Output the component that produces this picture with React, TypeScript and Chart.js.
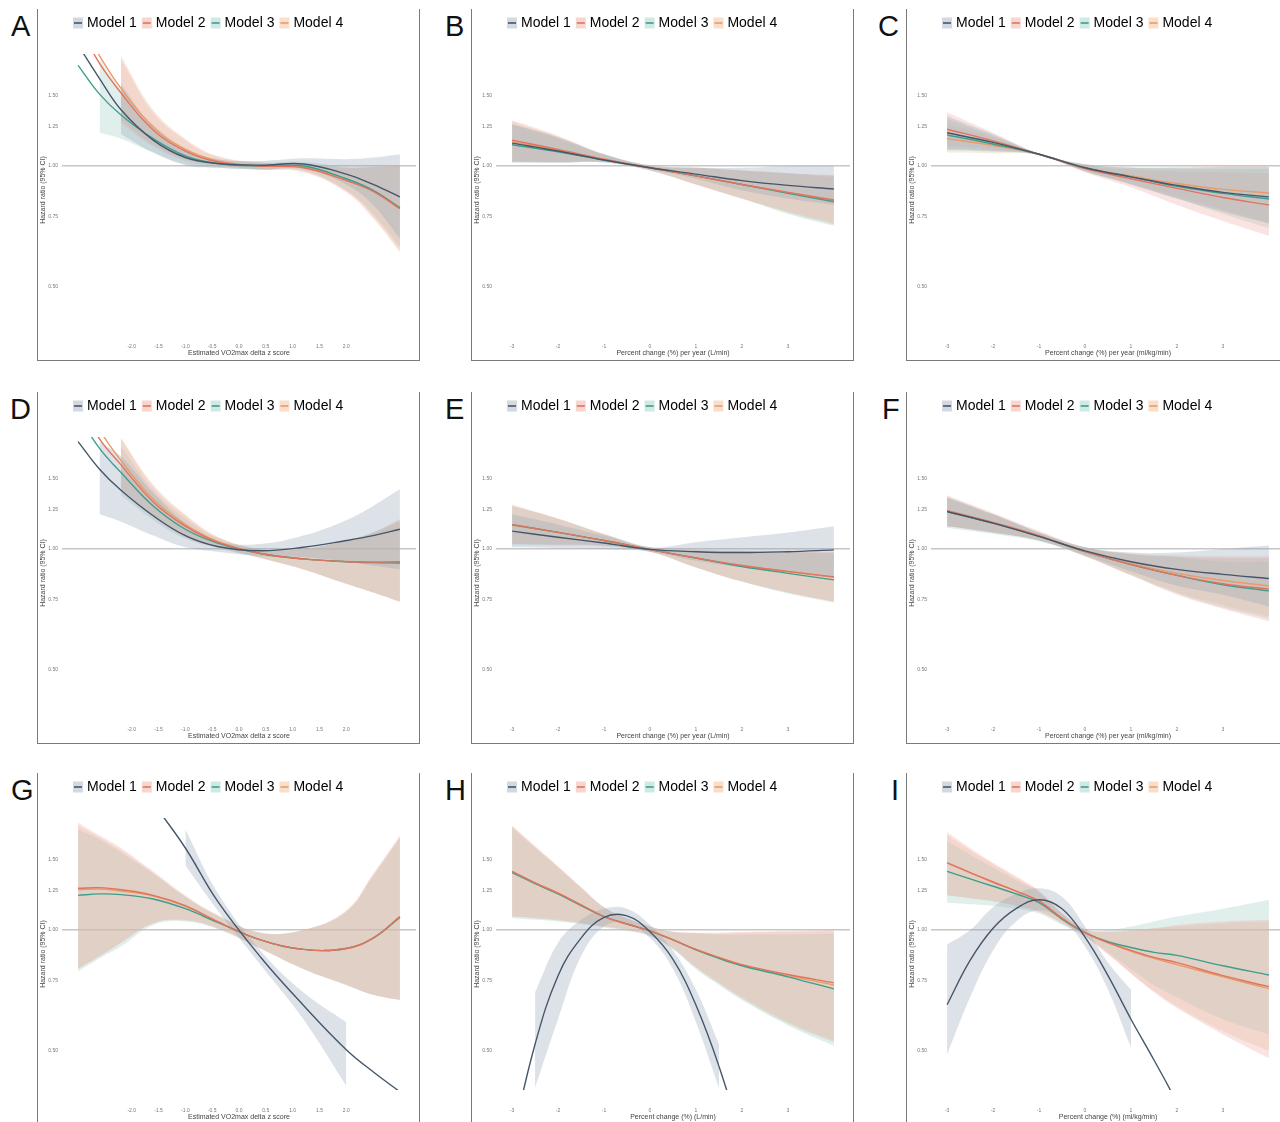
import React, { useEffect, useRef } from 'react';
import { Chart, registerables } from 'chart.js';
Chart.register(...registerables);

// ---------- data ----------
const MODELS = ['Model 1', 'Model 2', 'Model 3', 'Model 4'];
const Y_TICKS = [0.5, 0.75, 1, 1.25, 1.5];
const Y_TITLE = 'Hazard ratio (95% CI)';

const X_GRID_Z = [-3, -2.6, -2.2, -1.6, -1.0, -0.4, 0.4, 1.2, 2.0, 2.5, 3.0];
const X_GRID_PCT = [-3, -2, -1, 0, 1, 2, 3, 4];
const X_GRID_PCT_FINE = [-3, -2.5, -2, -1.5, -1, -0.5, 0, 0.5, 1, 1.5, 2, 3, 4];
const Z_TICKS = [-2, -1.5, -1, -0.5, 0, 0.5, 1, 1.5, 2];
const PCT_TICKS = [-3, -2, -1, 0, 1, 2, 3];

const TITLE_Z = 'Estimated VO2max delta z score';
const TITLE_B = 'Percent change (%) per year (L/min)';
const TITLE_C = 'Percent change (%) per year (ml/kg/min)';
const TITLE_H = 'Percent change (%) (L/min)';
const TITLE_I = 'Percent change (%) (ml/kg/min)';

// Panel A
const A_MID = [
  [2.0, 1.65, 1.38, 1.16, 1.05, 1.015, 1.005, 1.012, 0.955, 0.90, 0.838],
  [2.25, 1.80, 1.52, 1.23, 1.09, 1.025, 1.0, 0.99, 0.92, 0.865, 0.783],
  [1.78, 1.51, 1.34, 1.17, 1.06, 1.015, 1.0, 1.0, 0.93, 0.87, 0.787],
  [2.35, 1.88, 1.56, 1.25, 1.10, 1.03, 1.0, 0.995, 0.925, 0.87, 0.79],
];
const A_LO = [
  [null, null, 1.20, 1.08, 1.005, 0.99, 0.98, 0.985, 0.90, 0.80, 0.66],
  [null, null, 1.28, 1.12, 1.03, 1.0, 0.98, 0.965, 0.86, 0.74, 0.61],
  [null, 1.21, 1.17, 1.08, 1.01, 0.99, 0.98, 0.975, 0.87, 0.76, 0.63],
  [null, null, 1.30, 1.13, 1.04, 1.005, 0.98, 0.97, 0.865, 0.75, 0.62],
];
const A_HI = [
  [null, null, 1.60, 1.25, 1.10, 1.04, 1.03, 1.045, 1.04, 1.05, 1.07],
  [null, null, 1.85, 1.36, 1.16, 1.055, 1.02, 1.01, 0.99, 0.995, 1.0],
  [null, 1.85, 1.55, 1.27, 1.11, 1.04, 1.02, 1.025, 0.995, 0.995, 1.0],
  [null, null, 1.88, 1.38, 1.17, 1.06, 1.02, 1.015, 0.99, 0.995, 1.0],
];

// Panel B
const B_MID = [
  [1.14, 1.09, 1.035, 0.99, 0.955, 0.92, 0.895, 0.877],
  [1.16, 1.10, 1.04, 0.99, 0.945, 0.90, 0.86, 0.823],
  [1.13, 1.085, 1.035, 0.99, 0.945, 0.90, 0.855, 0.815],
  [1.15, 1.095, 1.04, 0.99, 0.945, 0.90, 0.86, 0.82],
];
const B_LO = [
  [1.02, 1.02, 1.02, 0.98, 0.93, 0.87, 0.83, 0.80],
  [1.03, 1.025, 1.025, 0.975, 0.90, 0.83, 0.77, 0.72],
  [1.02, 1.02, 1.02, 0.975, 0.90, 0.83, 0.76, 0.71],
  [1.025, 1.02, 1.025, 0.975, 0.90, 0.83, 0.765, 0.715],
];
const B_HI = [
  [1.27, 1.18, 1.07, 1.0, 0.99, 0.99, 1.0, 1.0],
  [1.30, 1.19, 1.07, 1.005, 0.99, 0.975, 0.96, 0.95],
  [1.27, 1.17, 1.07, 1.005, 0.99, 0.975, 0.96, 0.94],
  [1.29, 1.18, 1.07, 1.005, 0.99, 0.975, 0.96, 0.945],
];

// Panel C
const C_MID = [
  [1.21, 1.145, 1.07, 0.99, 0.94, 0.895, 0.86, 0.838],
  [1.235, 1.155, 1.07, 0.985, 0.93, 0.88, 0.835, 0.80],
  [1.195, 1.135, 1.07, 0.99, 0.94, 0.89, 0.855, 0.828],
  [1.17, 1.125, 1.07, 0.99, 0.945, 0.905, 0.875, 0.857],
];
const C_LO = [
  [1.10, 1.09, 1.065, 0.97, 0.90, 0.83, 0.77, 0.72],
  [1.12, 1.10, 1.065, 0.965, 0.885, 0.80, 0.73, 0.67],
  [1.095, 1.085, 1.065, 0.97, 0.90, 0.83, 0.76, 0.70],
  [1.08, 1.075, 1.065, 0.97, 0.905, 0.84, 0.78, 0.72],
];
const C_HI = [
  [1.33, 1.20, 1.075, 1.01, 0.99, 0.99, 0.995, 0.995],
  [1.36, 1.21, 1.075, 1.005, 0.98, 0.97, 0.965, 0.96],
  [1.31, 1.19, 1.075, 1.01, 0.99, 0.985, 0.985, 0.985],
  [1.27, 1.18, 1.075, 1.01, 0.995, 0.995, 1.0, 1.0],
];

// Panel D
const D_MID = [
  [1.85, 1.58, 1.40, 1.21, 1.08, 1.015, 0.99, 1.01, 1.05, 1.08, 1.12],
  [2.35, 1.88, 1.62, 1.31, 1.14, 1.04, 0.975, 0.945, 0.93, 0.928, 0.93],
  [2.15, 1.78, 1.55, 1.28, 1.12, 1.035, 0.975, 0.945, 0.93, 0.925, 0.923],
  [2.5, 1.98, 1.66, 1.33, 1.15, 1.045, 0.975, 0.945, 0.932, 0.93, 0.93],
];
const D_LO = [
  [null, 1.22, 1.17, 1.08, 1.01, 0.985, 0.96, 0.955, 0.93, 0.91, 0.89],
  [null, null, 1.40, 1.20, 1.07, 1.01, 0.95, 0.89, 0.82, 0.78, 0.74],
  [null, null, 1.36, 1.18, 1.06, 1.005, 0.95, 0.89, 0.82, 0.78, 0.74],
  [null, null, 1.42, 1.21, 1.075, 1.01, 0.95, 0.89, 0.82, 0.78, 0.74],
];
const D_HI = [
  [null, 1.85, 1.70, 1.38, 1.16, 1.045, 1.03, 1.08, 1.18, 1.28, 1.41],
  [null, null, 1.88, 1.43, 1.21, 1.07, 1.0, 1.0, 1.05, 1.10, 1.18],
  [null, null, 1.80, 1.40, 1.19, 1.065, 1.0, 1.0, 1.05, 1.10, 1.17],
  [null, null, 1.89, 1.45, 1.22, 1.075, 1.0, 1.0, 1.05, 1.10, 1.19],
];

// Panel E
const E_MID = [
  [1.108, 1.07, 1.035, 0.998, 0.985, 0.98, 0.985, 0.995],
  [1.15, 1.10, 1.05, 0.997, 0.95, 0.91, 0.88, 0.853],
  [1.15, 1.10, 1.05, 0.997, 0.95, 0.905, 0.87, 0.838],
  [1.145, 1.10, 1.05, 0.997, 0.95, 0.91, 0.878, 0.85],
];
const E_LO = [
  [1.01, 1.005, 1.0, 0.985, 0.935, 0.90, 0.875, 0.86],
  [1.03, 1.025, 1.02, 0.985, 0.90, 0.83, 0.78, 0.74],
  [1.02, 1.02, 1.015, 0.985, 0.90, 0.83, 0.775, 0.735],
  [1.03, 1.025, 1.02, 0.985, 0.90, 0.83, 0.78, 0.74],
];
const E_HI = [
  [1.22, 1.15, 1.08, 1.01, 1.04, 1.07, 1.10, 1.14],
  [1.29, 1.19, 1.09, 1.01, 0.995, 0.99, 0.985, 0.98],
  [1.28, 1.19, 1.09, 1.01, 0.995, 0.985, 0.98, 0.975],
  [1.28, 1.19, 1.09, 1.01, 0.995, 0.99, 0.99, 0.985],
];

// Panel F
const F_MID = [
  [1.24, 1.16, 1.075, 0.99, 0.93, 0.89, 0.865, 0.845],
  [1.245, 1.165, 1.08, 0.985, 0.915, 0.86, 0.82, 0.795],
  [1.24, 1.16, 1.075, 0.985, 0.915, 0.86, 0.815, 0.787],
  [1.245, 1.16, 1.075, 0.987, 0.92, 0.87, 0.835, 0.81],
];
const F_LO = [
  [1.14, 1.10, 1.05, 0.965, 0.88, 0.81, 0.77, 0.72],
  [1.14, 1.10, 1.05, 0.96, 0.86, 0.77, 0.71, 0.66],
  [1.13, 1.09, 1.045, 0.96, 0.86, 0.775, 0.715, 0.67],
  [1.14, 1.10, 1.05, 0.96, 0.865, 0.78, 0.725, 0.68],
];
const F_HI = [
  [1.34, 1.22, 1.10, 1.01, 0.98, 0.98, 1.0, 1.02],
  [1.36, 1.23, 1.11, 1.01, 0.97, 0.955, 0.95, 0.95],
  [1.35, 1.22, 1.10, 1.01, 0.97, 0.955, 0.93, 0.93],
  [1.35, 1.22, 1.10, 1.01, 0.975, 0.965, 0.96, 0.96],
];

// Panel G
const G_MID = [
  [4.2, 3.4, 2.8, 2.08, 1.60, 1.18, 0.857, 0.65, 0.504, 0.444, 0.396],
  [1.27, 1.275, 1.26, 1.22, 1.15, 1.05, 0.945, 0.895, 0.90, 0.955, 1.08],
  [1.22, 1.23, 1.225, 1.195, 1.13, 1.045, 0.945, 0.895, 0.90, 0.955, 1.075],
  [1.26, 1.265, 1.25, 1.215, 1.145, 1.05, 0.945, 0.895, 0.90, 0.955, 1.08],
];
const G_LO = [
  [null, null, null, null, 1.45, 1.12, 0.82, 0.60, 0.41, null, null],
  [0.80, 0.86, 0.93, 1.04, 1.06, 1.01, 0.90, 0.80, 0.73, 0.69, 0.67],
  [0.79, 0.85, 0.91, 1.03, 1.05, 1.005, 0.90, 0.80, 0.73, 0.69, 0.67],
  [0.80, 0.86, 0.93, 1.04, 1.055, 1.01, 0.90, 0.80, 0.73, 0.69, 0.67],
];
const G_HI = [
  [null, null, null, null, 1.78, 1.24, 0.89, 0.70, 0.59, null, null],
  [1.85, 1.72, 1.60, 1.40, 1.22, 1.09, 0.985, 1.0, 1.12, 1.38, 1.72],
  [1.78, 1.68, 1.56, 1.38, 1.21, 1.085, 0.985, 1.0, 1.11, 1.36, 1.70],
  [1.82, 1.70, 1.58, 1.39, 1.21, 1.09, 0.985, 1.0, 1.11, 1.37, 1.70],
];

// Panel H
const H_MID = [
  [0.30, 0.52, 0.77, 0.955, 1.075, 1.085, 0.99, 0.845, 0.65, 0.458, 0.295, 0.093, 0.03],
  [1.40, 1.31, 1.235, 1.155, 1.08, 1.035, 0.995, 0.945, 0.895, 0.855, 0.82, 0.775, 0.739],
  [1.39, 1.305, 1.23, 1.15, 1.08, 1.035, 0.995, 0.945, 0.893, 0.85, 0.815, 0.765, 0.714],
  [1.40, 1.31, 1.235, 1.155, 1.08, 1.035, 0.995, 0.945, 0.894, 0.853, 0.818, 0.77, 0.73],
];
const H_LO = [
  [null, 0.405, 0.60, 0.86, 1.02, 1.04, 0.955, 0.80, 0.59, 0.405, null, null, null],
  [1.08, 1.07, 1.06, 1.04, 1.02, 1.0, 0.97, 0.90, 0.81, 0.74, 0.68, 0.59, 0.53],
  [1.07, 1.06, 1.05, 1.035, 1.015, 0.995, 0.965, 0.895, 0.80, 0.73, 0.67, 0.58, 0.515],
  [1.08, 1.07, 1.055, 1.04, 1.02, 1.0, 0.968, 0.90, 0.805, 0.735, 0.675, 0.585, 0.525],
];
const H_HI = [
  [null, 0.70, 0.93, 1.06, 1.13, 1.13, 1.03, 0.89, 0.71, 0.52, null, null, null],
  [1.82, 1.62, 1.44, 1.28, 1.14, 1.07, 1.02, 0.99, 0.985, 0.985, 0.99, 0.995, 1.0],
  [1.80, 1.60, 1.43, 1.27, 1.14, 1.07, 1.02, 0.99, 0.98, 0.975, 0.975, 0.975, 0.98],
  [1.81, 1.61, 1.44, 1.28, 1.14, 1.07, 1.02, 0.99, 0.985, 0.98, 0.985, 0.99, 0.995],
];

// Panel I
const I_MID = [
  [0.652, 0.84, 1.01, 1.13, 1.19, 1.13, 0.96, 0.77, 0.60, 0.475, 0.37, 0.2, 0.1],
  [1.47, 1.39, 1.315, 1.25, 1.18, 1.07, 0.985, 0.93, 0.89, 0.855, 0.83, 0.77, 0.723],
  [1.40, 1.34, 1.285, 1.23, 1.17, 1.065, 0.985, 0.935, 0.905, 0.88, 0.865, 0.815, 0.773],
  [1.47, 1.39, 1.32, 1.25, 1.18, 1.07, 0.985, 0.93, 0.885, 0.85, 0.82, 0.765, 0.715],
];
const I_LO = [
  [0.49, 0.68, 0.89, 1.05, 1.12, 1.06, 0.91, 0.71, 0.51, null, null, null, null],
  [1.22, 1.20, 1.18, 1.15, 1.11, 1.04, 0.965, 0.87, 0.78, 0.70, 0.64, 0.55, 0.48],
  [1.17, 1.16, 1.15, 1.13, 1.10, 1.03, 0.965, 0.88, 0.80, 0.73, 0.68, 0.60, 0.55],
  [1.22, 1.20, 1.18, 1.15, 1.11, 1.04, 0.965, 0.87, 0.78, 0.705, 0.645, 0.56, 0.50],
];
const I_HI = [
  [0.92, 1.0, 1.14, 1.23, 1.27, 1.21, 1.02, 0.83, 0.71, null, null, null, null],
  [1.75, 1.60, 1.47, 1.36, 1.25, 1.10, 1.005, 0.99, 1.0, 1.01, 1.03, 1.05, 1.06],
  [1.66, 1.54, 1.43, 1.33, 1.24, 1.10, 1.005, 1.0, 1.02, 1.05, 1.08, 1.13, 1.19],
  [1.72, 1.58, 1.46, 1.35, 1.25, 1.10, 1.005, 0.99, 0.995, 1.01, 1.02, 1.04, 1.05],
];

// ---------- styles ----------
const FONT = "'Liberation Sans', Arial, Helvetica, sans-serif";
const LINE_COLORS = ['#46566a', '#e2735f', '#3e9e8c', '#eb9a66'];
const BAND_COLORS = [
  'rgba(150,166,182,0.32)',
  'rgba(240,172,162,0.32)',
  'rgba(158,206,196,0.32)',
  'rgba(226,194,158,0.32)',
];
const SWATCH_BG = ['#d2d9e0', '#f8d6d0', '#cfe9e4', '#f8dfcb'];
const COL_X = [0, 434, 869];
const ROW_Y = [0, 383, 764];

type PanelCfg = {
  letter: string; col: number; row: number; letterX: number;
  xs: number[]; mid: (number | null)[][]; lo: (number | null)[][]; hi: (number | null)[][];
  xTicks: number[]; xMin: number; xMax: number; xTitle: string; digits: number;
};

const Z = { xs: X_GRID_Z, xTicks: Z_TICKS, xMin: -3.3, xMax: 3.3, digits: 1 };
const P = { xs: X_GRID_PCT, xTicks: PCT_TICKS, xMin: -3.35, xMax: 4.35, digits: 0 };
const PF = { xs: X_GRID_PCT_FINE, xTicks: PCT_TICKS, xMin: -3.35, xMax: 4.35, digits: 0 };

const PANELS: PanelCfg[] = [
  { letter: 'A', col: 0, row: 0, letterX: 11, ...Z, mid: A_MID, lo: A_LO, hi: A_HI, xTitle: TITLE_Z },
  { letter: 'B', col: 1, row: 0, letterX: 11, ...P, mid: B_MID, lo: B_LO, hi: B_HI, xTitle: TITLE_B },
  { letter: 'C', col: 2, row: 0, letterX: 9, ...P, mid: C_MID, lo: C_LO, hi: C_HI, xTitle: TITLE_C },
  { letter: 'D', col: 0, row: 1, letterX: 10, ...Z, mid: D_MID, lo: D_LO, hi: D_HI, xTitle: TITLE_Z },
  { letter: 'E', col: 1, row: 1, letterX: 11, ...P, mid: E_MID, lo: E_LO, hi: E_HI, xTitle: TITLE_B },
  { letter: 'F', col: 2, row: 1, letterX: 13, ...P, mid: F_MID, lo: F_LO, hi: F_HI, xTitle: TITLE_C },
  { letter: 'G', col: 0, row: 2, letterX: 11, ...Z, mid: G_MID, lo: G_LO, hi: G_HI, xTitle: TITLE_Z },
  { letter: 'H', col: 1, row: 2, letterX: 11, ...PF, mid: H_MID, lo: H_LO, hi: H_HI, xTitle: TITLE_H },
  { letter: 'I', col: 2, row: 2, letterX: 22, ...PF, mid: I_MID, lo: I_LO, hi: I_HI, xTitle: TITLE_I },
];

function makeSwatch(bg: string, line: string) {
  const c = document.createElement('canvas');
  c.width = 16; c.height = 12;
  const g = c.getContext('2d')!;
  g.fillStyle = bg;
  g.fillRect(2, 0.5, 10, 11);
  g.strokeStyle = line;
  g.lineWidth = 1.6;
  g.beginPath();
  g.moveTo(3, 6);
  g.lineTo(11, 6);
  g.stroke();
  return c;
}

const legendPlacer = {
  id: 'legendPlacer',
  afterLayout(chart: any) {
    const lg = chart.legend;
    if (!lg) return;
    const w = lg.width, h = lg.height;
    lg.left = 30; lg.right = 30 + w;
    lg.top = 6; lg.bottom = 6 + h;
  },
};

function Panel({ p }: { p: PanelCfg }) {
  const ref = useRef<HTMLCanvasElement>(null);
  useEffect(() => {
    const swatches = MODELS.map((_, i) => makeSwatch(SWATCH_BG[i], LINE_COLORS[i]));
    const ds: any[] = [];
    MODELS.forEach((m, i) => {
      ds.push({
        label: m,
        data: p.xs.map((x, k) => ({ x, y: p.mid[i][k] })),
        borderColor: LINE_COLORS[i],
        borderWidth: 1.4,
        pointRadius: 0,
        fill: false,
        tension: 0.4,
      });
    });
    MODELS.forEach((m, i) => {
      ds.push({
        label: m + ' lower',
        data: p.xs.map((x, k) => ({ x, y: p.lo[i][k] })),
        borderWidth: 0,
        borderColor: 'rgba(0,0,0,0)',
        pointRadius: 0,
        fill: false,
        tension: 0.4,
      });
      ds.push({
        label: m + ' upper',
        data: p.xs.map((x, k) => ({ x, y: p.hi[i][k] })),
        borderWidth: 0,
        borderColor: 'rgba(0,0,0,0)',
        backgroundColor: BAND_COLORS[i],
        pointRadius: 0,
        fill: '-1',
        tension: 0.4,
      });
    });
    const chart = new Chart(ref.current!, {
      type: 'line',
      data: { datasets: ds },
      plugins: [legendPlacer],
      options: {
        animation: false,
        responsive: false,
        devicePixelRatio: 1,
        events: [],
        layout: { padding: { top: 20, right: 2, bottom: 0, left: 0 } },
        plugins: {
          tooltip: { enabled: false },
          legend: {
            display: true,
            position: 'top',
            align: 'start',
            labels: {
              usePointStyle: true,
              pointStyleWidth: 2,
              padding: 10,
              color: '#222',
              font: { family: FONT, size: 14 },
              generateLabels: () => MODELS.map((m, i) => ({
                text: m,
                pointStyle: swatches[i],
                fillStyle: 'rgba(0,0,0,0)',
                strokeStyle: 'rgba(0,0,0,0)',
                lineWidth: 0,
                hidden: false,
                datasetIndex: i,
              })),
            },
          },
        },
        scales: {
          x: {
            type: 'linear',
            min: p.xMin,
            max: p.xMax,
            afterBuildTicks: (ax: any) => { ax.ticks = p.xTicks.map((v) => ({ value: v })); },
            afterFit: (s: any) => { s.height = 32; },
            grid: { display: false, drawTicks: false },
            border: { display: false },
            ticks: {
              autoSkip: false,
              maxRotation: 0,
              padding: 18,
              color: '#777',
              font: { family: FONT, size: 5 },
              callback: (v: any) => Number(v).toFixed(p.digits),
            },
            title: {
              display: true,
              text: p.xTitle,
              color: '#444',
              font: { family: FONT, size: 7 },
              padding: { top: 0, bottom: 1 },
            },
          },
          y: {
            type: 'logarithmic',
            min: 0.4,
            max: 1.9,
            afterBuildTicks: (ax: any) => { ax.ticks = Y_TICKS.map((v) => ({ value: v })); },
            afterFit: (s: any) => { s.width = 24; },
            grid: {
              drawTicks: false,
              lineWidth: 1.5,
              color: (c: any) => (c.tick && Math.abs(c.tick.value - 1) < 1e-9 ? '#c6c6c6' : 'rgba(0,0,0,0)'),
            },
            border: { display: false },
            ticks: {
              autoSkip: false,
              padding: 4,
              color: '#777',
              font: { family: FONT, size: 5 },
              callback: (v: any) => Number(v).toFixed(2),
            },
            title: {
              display: true,
              text: Y_TITLE,
              color: '#444',
              font: { family: FONT, size: 7 },
              padding: { top: 1, bottom: 0 },
            },
          },
        },
      } as any,
    });
    return () => chart.destroy();
  }, []);
  return (
    <div style={{ position: 'absolute', left: COL_X[p.col], top: ROW_Y[p.row], width: 430, height: 372 }}>
      <div style={{ position: 'absolute', left: 37, top: 9, width: 381, height: 351, borderLeft: '1px solid #7a7a7a', borderRight: '1px solid #7a7a7a', borderBottom: '1px solid #7a7a7a' }} />
      <div style={{ position: 'absolute', left: p.letterX, top: 12, fontFamily: FONT, fontSize: 29, lineHeight: '29px', color: '#111' }}>{p.letter}</div>
      <canvas ref={ref} width={380} height={358} style={{ position: 'absolute', left: 38, top: 0, width: 380, height: 358 }} />
    </div>
  );
}

export default function App() {
  return (
    <div style={{ position: 'absolute', left: 0, top: 0, width: 1280, height: 1122, overflow: 'hidden', background: '#fff' }}>
      {PANELS.map((p) => <Panel key={p.letter} p={p} />)}
    </div>
  );
}
